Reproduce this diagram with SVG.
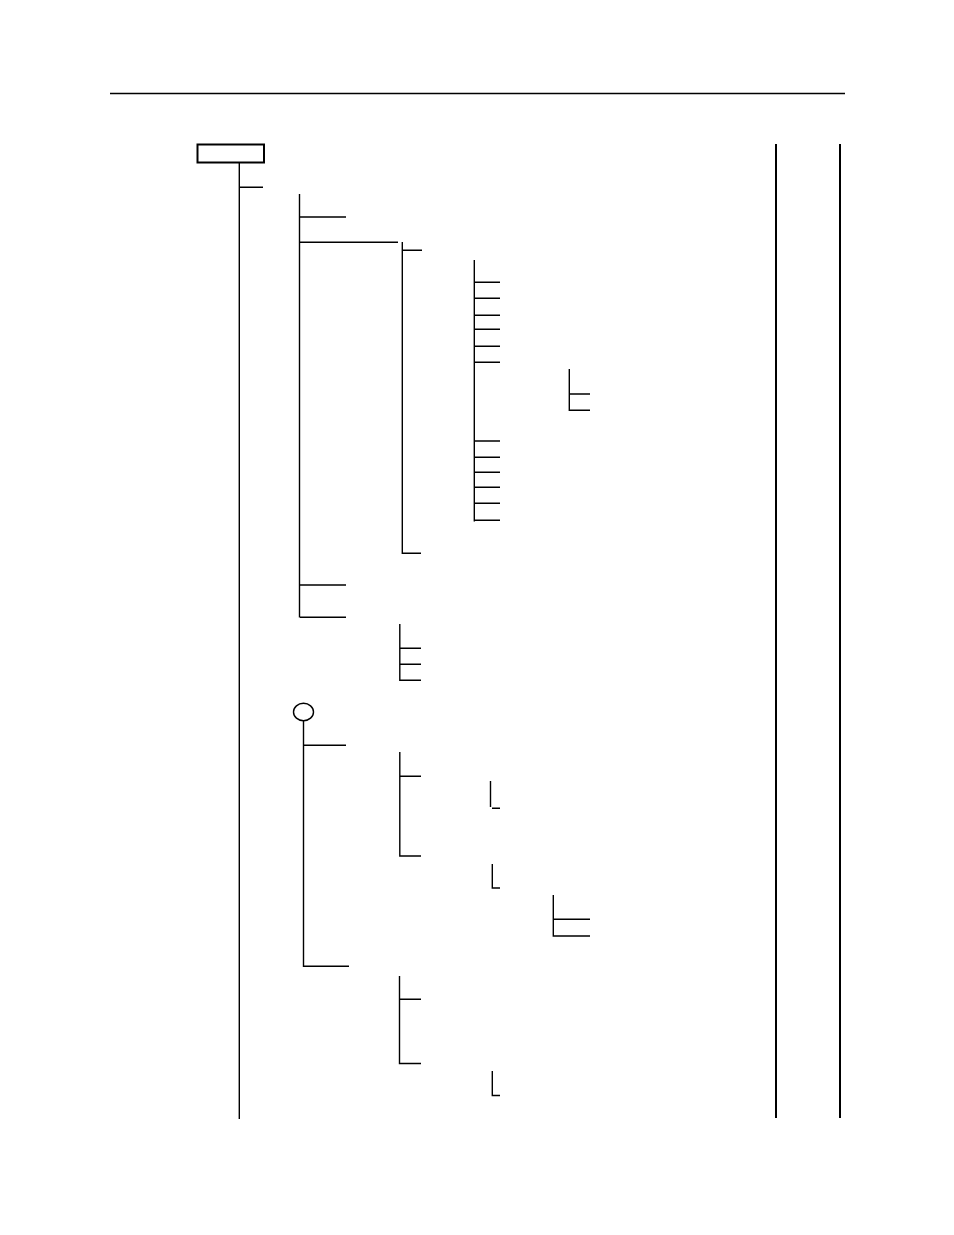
<svg xmlns="http://www.w3.org/2000/svg" width="954" height="1235" viewBox="0 0 954 1235">
<style>
.l{stroke:#000;stroke-width:1.4;fill:none;stroke-linecap:butt}
.t{stroke:#000;stroke-width:2;fill:none}
</style>
<rect width="954" height="1235" fill="#fff"/>
<g id="frame">
<line class="l" x1="110" y1="93.5" x2="845" y2="93.5"/>
<line class="t" x1="776" y1="144" x2="776" y2="1118"/>
<line class="t" x1="840" y1="144" x2="840" y2="1118"/>
</g>
<g id="root">
<rect class="t" x="197.5" y="144.5" width="66.5" height="18"/>
</g>
<g id="circle">
<ellipse class="l" cx="303.5" cy="712" rx="10" ry="8.7"/>
</g>
<g id="connectors">
<path class="l" d="M239.3 163 V1119 M240 187.3 H263"/>
<path class="l" d="M299.5 194 V617.5 M300 217 H346 M300 242.3 H398 M300 585 H346 M300 617.3 H346"/>
<path class="l" d="M402.3 242 V553.3 H421 M402 250.3 H422"/>
<path class="l" d="M474.3 260 V521.5"/>
<path class="l" d="M474 282.3 H500 M474 298.3 H500 M474 315.3 H500 M474 329.3 H500 M474 346.3 H500 M474 362.3 H500 M474 441 H500 M474 457.3 H500 M474 472.3 H500 M474 487.3 H500 M474 503.3 H500 M474 520.3 H500"/>
<path class="l" d="M569.3 369 V410.3 H590 M570 394 H590"/>
<path class="l" d="M399.8 624 V681 M400 648.3 H421 M400 664.3 H421 M400 680.3 H421"/>
<path class="l" d="M303.5 721 V967 M304 745.3 H346 M304 966.3 H349"/>
<path class="l" d="M399.8 752 V856 H421 M400 776.3 H421"/>
<path class="l" d="M490.5 781 V807 M492 808.3 H500"/>
<path class="l" d="M492.3 864 V888 H500"/>
<path class="l" d="M553.3 895 V936 H590 M553 919.3 H590"/>
<path class="l" d="M399.5 976 V1063.5 H421 M400 999.3 H421"/>
<path class="l" d="M492.3 1071 V1095.5 H500"/>
</g>
</svg>
